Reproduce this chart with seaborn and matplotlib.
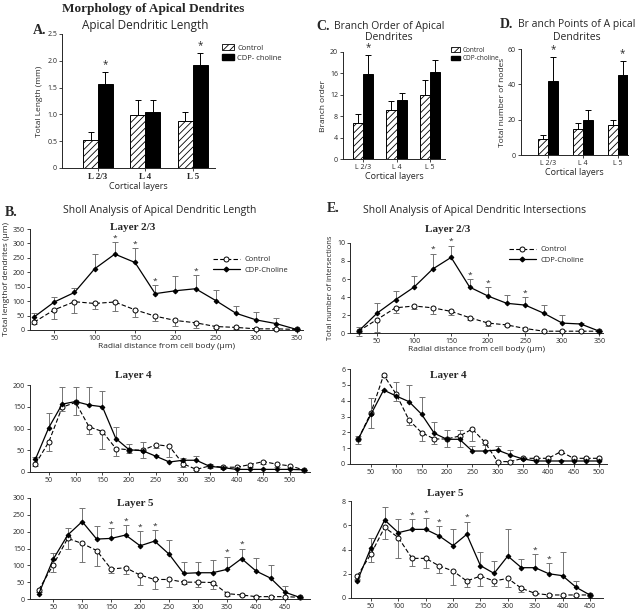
import numpy as np
import pandas as pd
import matplotlib
matplotlib.use("Agg")
import matplotlib.pyplot as plt
import seaborn as sns
from matplotlib.lines import Line2D
from matplotlib.patches import Patch

sns.set_style("ticks")
plt.rcParams["font.family"] = ["Open Sans", "DejaVu Sans"]
plt.rcParams["hatch.linewidth"] = 0.6
SERIF = "Liberation Serif"

W, H = 635, 612

# ---- bar panels (mean, top of error bar) ----
layers = ["L 2/3", "L 4", "L 5"]

len_ctrl = [0.52, 0.99, 0.88]
len_ctrl_hi = [0.68, 1.27, 1.05]
len_cdp = [1.56, 1.05, 1.92]
len_cdp_hi = [1.80, 1.27, 2.15]
len_star = [True, False, True]

ord_ctrl = [6.8, 9.1, 12.0]
ord_ctrl_hi = [8.4, 10.9, 14.7]
ord_cdp = [15.8, 11.1, 16.2]
ord_cdp_hi = [19.5, 12.3, 18.5]
ord_star = [True, False, False]

nod_ctrl = [9.0, 14.8, 17.0]
nod_ctrl_hi = [11.5, 18.3, 19.8]
nod_cdp = [42.0, 20.0, 45.5]
nod_cdp_hi = [55.5, 25.7, 53.3]
nod_star = [True, False, True]

# ---- Sholl data ----
x23 = [25, 50, 75, 100, 125, 150, 175, 200, 225, 250, 275, 300, 325, 350]
len23_ctrl = [27, 70, 98, 92, 97, 70, 48, 33, 25, 12, 9, 4, 4, 2]
len23_ctrl_lo = [22, 38, 58, 72, 66, 46, 32, 15, 8, 6, 5, 2, 2, 1]
len23_cdp = [45, 97, 130, 212, 263, 234, 126, 136, 143, 102, 58, 35, 22, 2]
len23_cdp_hi = [60, 115, 145, 262, 305, 283, 155, 187, 190, 137, 82, 62, 41, 2]
len23_stars = [125, 150, 175, 225]

int23_ctrl = [0.2, 1.5, 2.8, 3.0, 2.8, 2.4, 1.7, 1.1, 0.9, 0.5, 0.2, 0.2, 0.2, 0.2]
int23_ctrl_lo = [-0.3, 0.1, 2.2, 2.65, 2.1, 2.0, 1.5, 0.8, 0.8, 0.3, 0.2, 0.2, 0.2, 0.2]
int23_cdp = [0.2, 2.2, 3.7, 5.1, 7.1, 8.4, 5.1, 4.1, 3.3, 3.1, 2.2, 1.1, 1.0, 0.2]
int23_cdp_hi = [0.7, 3.3, 4.7, 6.3, 8.8, 9.7, 6.0, 5.1, 4.2, 4.0, 3.1, 2.0, 1.1, 0.2]
int23_stars = [125, 150, 175, 200, 250]

x4_len = [25, 50, 75, 100, 125, 150, 175, 200, 225, 250, 275, 300, 325, 350,
          375, 400, 425, 450, 475, 500, 525]
len4_ctrl = [18, 69, 149, 160, 104, 93, 54, 51, 50, 63, 59, 19, 6, 14, 11, 11, 17, 24, 18, 14, 5]
len4_ctrl_lo = [14, 48, 140, 131, 87, 54, 37, 44, 33, 55, 35, 12, 4, 10, 8, 8, 12, 18, 12, 10, 4]
len4_cdp = [29, 102, 156, 162, 154, 150, 77, 51, 49, 36, 23, 27, 27, 13, 10, 6, 6, 6, 6, 6, 5]
len4_cdp_hi = [35, 136, 196, 196, 196, 186, 104, 64, 69, 40, 25, 33, 37, 18, 12, 8, 8, 8, 8, 8, 5]

x4_int = [25, 50, 75, 100, 125, 150, 175, 200, 225, 250, 275, 300, 325, 350,
          375, 400, 425, 450, 475, 500]
int4_ctrl = [1.58, 3.24, 5.62, 4.4, 2.78, 1.98, 1.58, 1.58, 1.77, 2.21, 1.37, 0.15, 0.15,
             0.36, 0.36, 0.36, 0.78, 0.36, 0.36, 0.36]
int4_ctrl_lo = [1.24, 2.25, 5.5, 4.0, 2.46, 1.47, 1.26, 1.09, 1.09, 1.47, 1.2, 0.1, 0.1,
                0.3, 0.3, 0.3, 0.7, 0.3, 0.3, 0.3]
int4_cdp = [1.58, 3.14, 4.67, 4.29, 3.94, 3.14, 1.94, 1.56, 1.56, 0.82, 0.82, 0.88, 0.57,
            0.32, 0.19, 0.19, 0.19, 0.19, 0.19, 0.19]
int4_cdp_hi = [1.79, 4.2, 4.7, 5.16, 4.99, 4.25, 2.67, 2.15, 2.15, 1.15, 1.35, 1.16, 0.88,
               0.4, 0.25, 0.25, 0.25, 0.25, 0.25, 0.25]

x5_len = [25, 50, 75, 100, 125, 150, 175, 200, 225, 250, 275, 300, 325, 350,
          375, 400, 425, 450, 475]
len5_ctrl = [27, 101, 180, 165, 144, 89, 93, 71, 58, 58, 50, 50, 49, 16, 12, 7, 7, 7, 5]
len5_ctrl_lo = [20, 79, 149, 109, 98, 78, 74, 42, 30, 37, 44, 36, 29, 10, 8, 5, 5, 5, 4]
len5_cdp = [15, 118, 190, 230, 178, 180, 190, 158, 172, 133, 76, 78, 78, 88, 120, 83, 62, 20, 5]
len5_cdp_hi = [20, 138, 210, 271, 218, 210, 220, 202, 205, 175, 109, 109, 116, 126, 150,
               121, 101, 39, 5]
len5_stars = [150, 175, 200, 225, 350, 375]

x5_int = [25, 50, 75, 100, 125, 150, 175, 200, 225, 250, 275, 300, 325, 350,
          375, 400, 425, 450]
int5_ctrl = [1.81, 3.63, 5.83, 4.98, 3.27, 3.27, 2.64, 2.23, 1.4, 1.81, 1.4, 1.62, 0.8,
             0.38, 0.25, 0.25, 0.25, 0.25]
int5_ctrl_lo = [1.6, 3.0, 4.87, 3.33, 2.64, 2.45, 2.09, 1.07, 0.93, 0.95, 0.99, 0.93, 0.47,
                0.3, 0.2, 0.2, 0.2, 0.2]
int5_cdp = [1.4, 4.15, 6.43, 5.39, 5.66, 5.66, 5.11, 4.32, 5.25, 2.67, 2.03, 3.46, 2.5,
            2.5, 2.0, 1.84, 0.88, 0.25]
int5_cdp_hi = [1.5, 4.98, 7.53, 6.52, 6.52, 6.63, 5.94, 5.66, 6.3, 3.82, 3.05, 5.66, 3.22,
               3.6, 2.86, 3.82, 1.4, 0.25]
int5_stars = [125, 150, 175, 225, 350, 375]


def px_rect(l, t, r, b):
    return [l / W, 1 - b / H, (r - l) / W, (b - t) / H]


def fig_text(x, y, s, **kw):
    # place a text by pixel position (from the top-left corner)
    kw.setdefault("va", "center")
    return fig.text(x / W, 1 - y / H, s, **kw)


def style_axes(ax, fs=5):
    sns.despine(ax=ax)
    for s in ("left", "bottom"):
        ax.spines[s].set_linewidth(0.7)
    ax.tick_params(length=2, width=0.6, pad=1.5, labelsize=fs)


def bar_panel(ax, ctrl, ctrl_hi, cdp, cdp_hi, stars, width, xlim, ylim, yticks):
    df = pd.DataFrame({"layer": layers * 2,
                       "group": ["Control"] * 3 + ["CDP-choline"] * 3,
                       "value": ctrl + cdp})
    sns.barplot(data=df, x="layer", y="value", hue="group", palette=["white", "black"],
                saturation=1, width=width, edgecolor="black", linewidth=0.7,
                errorbar=None, legend=False, ax=ax)
    for bar in ax.containers[0]:
        bar.set_hatch("/////")
    for cont, vals, his in [(ax.containers[0], ctrl, ctrl_hi), (ax.containers[1], cdp, cdp_hi)]:
        xs = [b.get_x() + b.get_width() / 2 for b in cont]
        ax.vlines(xs, vals, his, color="black", lw=0.7)
        ax.plot(xs, his, marker="_", ls="none", color="black", ms=5, mew=0.7)
    xs = [b.get_x() + b.get_width() / 2 for b in ax.containers[1]]
    for xx, hi, st in zip(xs, cdp_hi, stars):
        if st:
            ax.annotate("*", (xx, hi), xytext=(0, 1), textcoords="offset points",
                        ha="center", va="bottom", fontsize=7)
    ax.set_xlim(*xlim)
    ax.set_ylim(*ylim)
    ax.set_yticks(yticks)
    style_axes(ax, fs=5)
    ax.set_xlabel("Cortical layers", fontsize=6.5, labelpad=1)


def sholl(ax, x, ctrl, ctrl_lo, cdp, cdp_hi, stars, xlim, ylim, yticks, xticks):
    ax.vlines(x, ctrl_lo, ctrl, color="0.45", lw=0.7, zorder=1, clip_on=False)
    ax.plot(x, ctrl_lo, marker="_", ls="none", color="0.45", ms=4, mew=0.7, zorder=1, clip_on=False)
    ax.vlines(x, cdp, cdp_hi, color="0.45", lw=0.7, zorder=1)
    ax.plot(x, cdp_hi, marker="_", ls="none", color="0.45", ms=4, mew=0.7, zorder=1)
    sns.lineplot(x=x, y=ctrl, ax=ax, color="black", linestyle=(0, (4, 2)), lw=0.8,
                 marker="o", ms=3.6, mfc="white", mec="black", mew=0.7, zorder=3, clip_on=False)
    sns.lineplot(x=x, y=cdp, ax=ax, color="black", lw=0.9, marker="D", ms=2.4,
                 mec="black", zorder=4, clip_on=False)
    for s in stars:
        hi = cdp_hi[x.index(s)]
        ax.annotate("*", (s, hi), xytext=(0, 0.5), textcoords="offset points",
                    ha="center", va="bottom", fontsize=6)
    ax.set_xlim(*xlim)
    ax.set_ylim(*ylim)
    ax.set_yticks(yticks)
    ax.set_xticks(xticks)
    style_axes(ax)


fig = plt.figure(figsize=(W / 100, H / 100), dpi=100)

fig_text(153, 9, "Morphology of Apical Dendrites", family=SERIF,
         weight="bold", fontsize=9.5, ha="center")

bar_handles = [Patch(facecolor="white", edgecolor="black", hatch="/////", lw=0.6),
               Patch(facecolor="black", edgecolor="black")]

# ---- A ----
axA = fig.add_axes(px_rect(62, 34, 215, 168))
bar_panel(axA, len_ctrl, len_ctrl_hi, len_cdp, len_cdp_hi, len_star, 0.63,
          (-0.76, 2.47), (0, 2.5), [0, 0.5, 1.0, 1.5, 2.0, 2.5])
axA.set_yticklabels(["0", "0.5", "1.0", "1.5", "2.0", "2.5"])
axA.set_ylabel("Total Length (mm)", fontsize=6, labelpad=3)
for t in axA.get_xticklabels():
    t.set_family(SERIF)
    t.set_weight("bold")
    t.set_fontsize(6.5)
fig_text(145, 26, "Apical Dendritic Length", fontsize=8.5, ha="center")
fig_text(33, 31, "A.", family=SERIF, weight="bold", fontsize=10)
axA.legend(handles=bar_handles, labels=["Control", "CDP- choline"], loc="upper left",
           bbox_to_anchor=(219 / W, 1 - 41 / H), bbox_transform=fig.transFigure,
           frameon=False, fontsize=5.5, handlelength=1.6, handleheight=0.8,
           handletextpad=0.4, labelspacing=0.3, borderaxespad=0)

# ---- C ----
axC = fig.add_axes(px_rect(343, 52, 445, 159))
bar_panel(axC, ord_ctrl, ord_ctrl_hi, ord_cdp, ord_cdp_hi, ord_star, 0.6,
          (-0.6, 2.45), (0, 20), [0, 4, 8, 12, 16, 20])
axC.set_ylabel("Branch order", fontsize=6, labelpad=2)
fig_text(389, 27, "Branch Order of Apical", fontsize=7.5, ha="center")
fig_text(389, 38, "Dendrites", fontsize=7.5, ha="center")
fig_text(316, 27, "C.", family=SERIF, weight="bold", fontsize=10)
axC.legend(handles=bar_handles, labels=["Control", "CDP-choline"], loc="upper left",
           bbox_to_anchor=(448 / W, 1 - 44 / H), bbox_transform=fig.transFigure,
           frameon=False, fontsize=4.7, handlelength=1.4, handleheight=0.7,
           handletextpad=0.5, labelspacing=0.25, borderaxespad=0)

# ---- D ----
axD = fig.add_axes(px_rect(521, 49, 628, 155))
bar_panel(axD, nod_ctrl, nod_ctrl_hi, nod_cdp, nod_cdp_hi, nod_star, 0.58,
          (-0.78, 2.3), (0, 60), [0, 20, 40, 60])
axD.set_ylabel("Total number of nodes", fontsize=6)
axD.yaxis.set_label_coords(-0.14, 0.5)
fig_text(577, 25, "Br anch Points of A pical", fontsize=7.5, ha="center")
fig_text(577, 38, "Dendrites", fontsize=7.5, ha="center")
fig_text(500, 25, "D.", family=SERIF, weight="bold", fontsize=10)

# ---- B: Sholl length ----
fig_text(5, 212, "B.", family=SERIF, weight="bold", fontsize=10)
fig_text(160, 210, "Sholl Analysis of Apical Dendritic Length", fontsize=7.5, ha="center")
axB23 = fig.add_axes(px_rect(30, 229, 303, 330))
sholl(axB23, x23, len23_ctrl, len23_ctrl_lo, len23_cdp, len23_cdp_hi, len23_stars,
      (20, 358), (0, 350), [0, 50, 100, 150, 200, 250, 300, 350],
      [50, 100, 150, 200, 250, 300, 350])
axB23.set_ylabel("Total lengthof dendrites (\u03bcm)", fontsize=6, labelpad=2)
axB23.set_xlabel("Radial distance from cell body (\u03bcm)", fontsize=6, labelpad=1)

axB4 = fig.add_axes(px_rect(30, 385, 310, 472))
sholl(axB4, x4_len, len4_ctrl, len4_ctrl_lo, len4_cdp, len4_cdp_hi, [],
      (15, 537), (0, 200), [0, 50, 100, 150, 200],
      [50, 100, 150, 200, 250, 300, 350, 400, 450, 500])

axB5 = fig.add_axes(px_rect(30, 498, 310, 599))
sholl(axB5, x5_len, len5_ctrl, len5_ctrl_lo, len5_cdp, len5_cdp_hi, len5_stars,
      (10, 493), (0, 300), [0, 50, 100, 150, 200, 250, 300],
      [50, 100, 150, 200, 250, 300, 350, 400, 450])

# ---- E: Sholl intersections ----
fig_text(327, 208, "E.", family=SERIF, weight="bold", fontsize=10)
fig_text(475, 210, "Sholl Analysis of Apical Dendritic Intersections", fontsize=7.5, ha="center")
axE23 = fig.add_axes(px_rect(350, 243, 603, 333))
sholl(axE23, x23, int23_ctrl, int23_ctrl_lo, int23_cdp, int23_cdp_hi, int23_stars,
      (13.5, 355), (0, 10), [0, 2, 4, 6, 8, 10],
      [50, 100, 150, 200, 250, 300, 350])
axE23.set_ylabel("Total number of intersections", fontsize=5.5, labelpad=2)
axE23.set_xlabel("Radial distance from cell body (\u03bcm)", fontsize=6, labelpad=1)

axE4 = fig.add_axes(px_rect(350, 369, 607, 464))
sholl(axE4, x4_int, int4_ctrl, int4_ctrl_lo, int4_cdp, int4_cdp_hi, [],
      (8.6, 516), (0, 6), [0, 1, 2, 3, 4, 5, 6],
      [50, 100, 150, 200, 250, 300, 350, 400, 450, 500])

axE5 = fig.add_axes(px_rect(351, 501, 603, 598))
sholl(axE5, x5_int, int5_ctrl, int5_ctrl_lo, int5_cdp, int5_cdp_hi, int5_stars,
      (13.5, 474), (0, 8), [0, 2, 4, 6, 8],
      [50, 100, 150, 200, 250, 300, 350, 400, 450])

# layer titles
for xx, yy, txt in [(133, 228, "Layer 2/3"), (448, 230, "Layer 2/3"),
                    (133, 375, "Layer 4"), (448, 375, "Layer 4"),
                    (135, 503, "Layer 5"), (445, 493, "Layer 5")]:
    fig_text(xx, yy, txt, family=SERIF, weight="bold", fontsize=8, ha="center")

# legends for the Sholl plots
sholl_handles = [Line2D([], [], color="black", linestyle=(0, (4, 2)), lw=0.8, marker="o",
                        ms=3.6, mfc="white", mec="black", mew=0.7),
                 Line2D([], [], color="black", lw=0.9, marker="D", ms=2.4)]
for ax, anchor in [(axB23, (210, 253)), (axE23, (506, 243))]:
    ax.legend(handles=sholl_handles, labels=["Control", "CDP-Choline"], loc="upper left",
              bbox_to_anchor=(anchor[0] / W, 1 - anchor[1] / H),
              bbox_transform=fig.transFigure, frameon=False, fontsize=5.5,
              handlelength=3.5, handletextpad=0.6, labelspacing=0.4, borderaxespad=0)

fig.savefig("out.png", dpi=100)
